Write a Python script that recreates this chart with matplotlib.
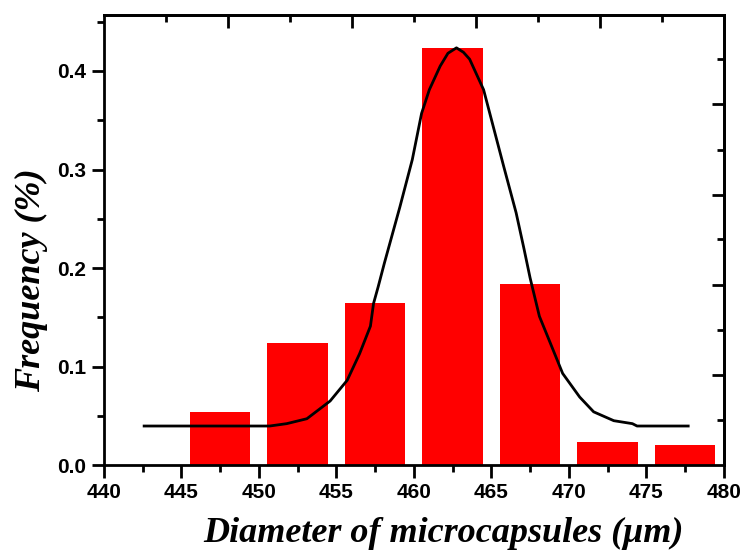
#!/usr/bin/env python3

import sys

import matplotlib
matplotlib.use('Agg')
import matplotlib.pyplot as plt
from matplotlib.font_manager import FontProperties
from matplotlib.ticker import MultipleLocator

# histogram bins (bin centre, um) and frequency
bin_centers = [447.5, 452.5, 457.5, 462.5, 467.5, 472.5, 477.5]
frequency = [0.054, 0.124, 0.164, 0.423, 0.184, 0.023, 0.020]

# fitted curve, points
fit_x = [442.6, 450.7, 451.8, 453.1, 454.6, 455.7, 456.5, 457.2, 457.4,
         457.7, 458.1, 459.1, 459.9, 460.5, 461.0, 461.7, 462.2, 462.75,
         463.2, 463.6, 464.5, 464.9, 465.8, 466.6, 467.1, 467.5, 468.1,
         468.8, 469.6, 470.7, 471.6, 472.9, 474.1, 474.4, 477.7]
fit_y = [0.0396, 0.0396, 0.042, 0.047, 0.065, 0.086, 0.113, 0.141, 0.164,
         0.181, 0.205, 0.262, 0.310, 0.357, 0.381, 0.405, 0.418, 0.4235,
         0.419, 0.412, 0.381, 0.357, 0.303, 0.256, 0.220, 0.190, 0.151,
         0.124, 0.093, 0.069, 0.054, 0.045, 0.042, 0.0396, 0.0396]

# the frame's top and right ticks do not line up with the bottom/left ones
top_major = [448, 456, 464, 472]
top_minor = [444, 452, 460, 468, 476]
right_major = [0.0915, 0.183, 0.2745, 0.366]
right_minor = [0.0457, 0.137, 0.229, 0.320, 0.412]

TICK_FONT = {'family': 'Liberation Sans', 'weight': 'bold', 'size': 15}
LABEL_FONT = {'family': 'Liberation Serif', 'weight': 'bold',
              'style': 'italic', 'size': 26}


def plot_histogram(outfn):
    fig = plt.figure(figsize=(7.47, 5.5), dpi=100)
    ax = fig.add_axes([0.139, 0.1545, 0.830, 0.8185])

    ax.bar(bin_centers, frequency, width=3.9, color='#ff0000', zorder=1)
    ax.plot(fit_x, fit_y, color='black', linewidth=2, zorder=2)

    ax.set_xlim(440, 480)
    ax.set_ylim(0, 0.457)
    ax.xaxis.set_major_locator(MultipleLocator(5))
    ax.xaxis.set_minor_locator(MultipleLocator(2.5))
    ax.yaxis.set_major_locator(MultipleLocator(0.1))
    ax.yaxis.set_minor_locator(MultipleLocator(0.05))

    for spine in ax.spines.values():
        spine.set_linewidth(2)
    ax.tick_params(which='major', direction='out', length=9, width=2,
                   top=False, right=False, pad=4)
    ax.tick_params(which='minor', direction='out', length=5, width=2,
                   top=False, right=False)
    for lbl in ax.get_xticklabels() + ax.get_yticklabels():
        lbl.set_fontproperties(FontProperties(**TICK_FONT))

    # inward ticks on the top and right edges
    top = ax.secondary_xaxis('top')
    top.set_xticks(top_major)
    top.set_xticks(top_minor, minor=True)
    top.tick_params(which='major', direction='in', length=9, width=2,
                    labeltop=False)
    top.tick_params(which='minor', direction='in', length=5, width=2)
    top.spines['top'].set_linewidth(2)

    right = ax.secondary_yaxis('right')
    right.set_yticks(right_major)
    right.set_yticks(right_minor, minor=True)
    right.tick_params(which='major', direction='in', length=9, width=2,
                      labelright=False)
    right.tick_params(which='minor', direction='in', length=5, width=2)
    right.spines['right'].set_linewidth(2)

    ax.set_xlabel('Diameter of microcapsules (\u03bcm)', fontdict=LABEL_FONT)
    ax.set_ylabel('Frequency (%)', fontdict=LABEL_FONT)
    ax.xaxis.set_label_coords(0.547, -0.115)
    ax.yaxis.set_label_coords(-0.09, 0.41)

    fig.savefig(outfn, dpi=100)
    plt.close(fig)


def main():
    plot_histogram('out.png')


if __name__ == '__main__':
    sys.exit(main())
